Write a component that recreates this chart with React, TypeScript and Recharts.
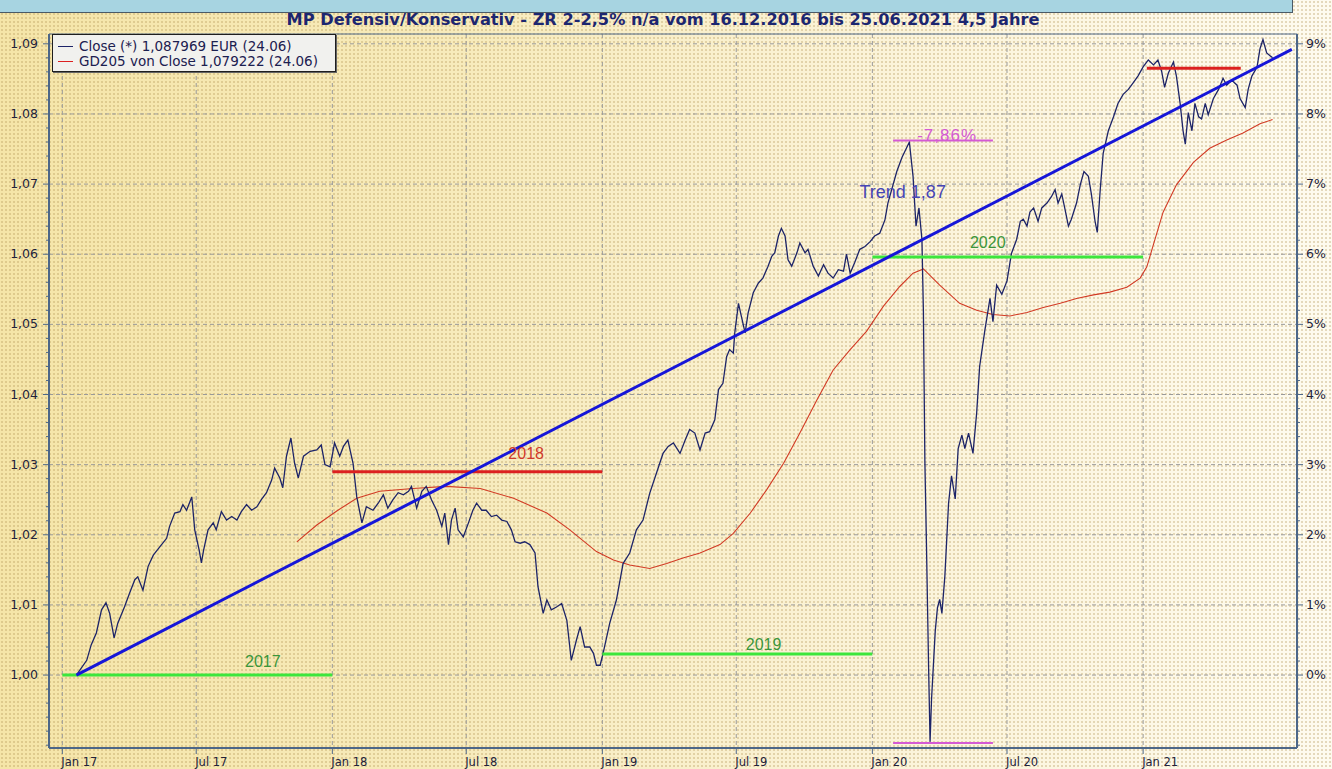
import React from 'react';
import {
  ComposedChart,
  Line,
  XAxis,
  YAxis,
  CartesianGrid,
  ReferenceLine,
  ReferenceDot,
} from 'recharts';

// x = Tage seit 01.01.2017
const closeDays = [
  19, 33, 39, 46, 53, 59, 64, 70, 75, 84, 91, 98, 102, 109, 116, 123, 132, 141, 145, 152,
  159, 163, 168, 175, 179, 185, 188, 191, 197, 204, 208, 215, 222, 229, 236, 242, 249, 256, 263, 269,
  276, 283, 287, 294, 298, 303, 309, 314, 319, 326, 335, 344, 350, 355, 362, 368, 375, 380, 386, 393,
  398, 405, 411, 420, 427, 434, 440, 447, 454, 461, 468, 472, 479, 486, 492, 499, 506, 513, 517, 522,
  526, 531, 535, 542, 549, 555, 560, 567, 573, 580, 587, 594, 601, 607, 612, 619, 625, 632, 639, 643,
  650, 655, 661, 668, 675, 682, 688, 695, 700, 706, 713, 718, 722, 727, 731, 740, 749, 758, 767, 776,
  785, 794, 806, 812, 819, 826, 835, 842, 848, 855, 862, 869, 875, 882, 887, 893, 898, 902, 907, 909,
  914, 918, 923, 927, 934, 941, 947, 954, 959, 963, 968, 972, 977, 981, 986, 993, 997, 1004, 1008, 1015,
  1022, 1029, 1035, 1042, 1049, 1056, 1060, 1065, 1071, 1078, 1085, 1092, 1098, 1105, 1112, 1116, 1128, 1135, 1145, 1150,
  1154, 1158, 1162, 1164, 1166, 1168, 1171, 1173, 1175, 1180, 1183, 1186, 1189, 1193, 1198, 1202, 1207, 1211, 1216, 1220,
  1225, 1231, 1236, 1240, 1247, 1254, 1258, 1263, 1270, 1277, 1283, 1290, 1295, 1299, 1304, 1308, 1313, 1319, 1324, 1331,
  1337, 1342, 1346, 1351, 1355, 1360, 1364, 1371, 1376, 1381, 1387, 1391, 1396, 1399, 1403, 1407, 1414, 1421, 1427, 1434,
  1441, 1448, 1454, 1461, 1468, 1475, 1481, 1486, 1490, 1495, 1502, 1506, 1511, 1515, 1518, 1522, 1527, 1531, 1536, 1540,
  1545, 1549, 1556, 1563, 1569, 1574, 1581, 1588, 1592, 1599, 1603, 1608, 1615, 1619, 1623, 1628, 1636,
];
const closeValues = [
  1.0, 1.0021, 1.0043, 1.006, 1.0093, 1.0103, 1.0088, 1.0053, 1.0074, 1.0097, 1.0117, 1.0136, 1.014, 1.0121, 1.0155, 1.0171, 1.0183, 1.0195, 1.0212, 1.0231,
  1.0233, 1.0243, 1.0235, 1.0254, 1.0207, 1.0178, 1.016, 1.0178, 1.0207, 1.0217, 1.0207, 1.0233, 1.0221, 1.0226, 1.0221, 1.0233, 1.0243, 1.0235, 1.024, 1.025,
  1.026, 1.0278, 1.0295, 1.0281, 1.0267, 1.0312, 1.0338, 1.0302, 1.0281, 1.0312, 1.0319, 1.0321, 1.0328, 1.03, 1.0297, 1.0331, 1.0312, 1.0326, 1.0335, 1.0302,
  1.0254, 1.0217, 1.024, 1.0235, 1.0245, 1.0257, 1.0238, 1.025, 1.026, 1.0257, 1.0262, 1.0269, 1.0238, 1.0262, 1.0269, 1.025, 1.0235, 1.0212, 1.0231, 1.0186,
  1.0221, 1.0238, 1.0207, 1.0197, 1.0217, 1.0235, 1.0245, 1.0235, 1.0235, 1.0226, 1.0228, 1.0221, 1.0219, 1.0207, 1.019, 1.0188, 1.019, 1.0186, 1.0174, 1.0126,
  1.0088, 1.0107, 1.0093, 1.0097, 1.0102, 1.0078, 1.0021, 1.005, 1.0069, 1.004, 1.004, 1.0031, 1.0014, 1.0014, 1.0031, 1.0074, 1.0107, 1.0159, 1.0174, 1.0207,
  1.0221, 1.0259, 1.0297, 1.0316, 1.0326, 1.0331, 1.0316, 1.0335, 1.035, 1.0345, 1.0321, 1.0345, 1.0347, 1.0364, 1.0407, 1.0416, 1.0454, 1.0464, 1.0459, 1.0488,
  1.053, 1.0511, 1.0488, 1.0516, 1.0545, 1.0559, 1.0566, 1.0583, 1.0597, 1.0602, 1.0626, 1.0637, 1.0626, 1.0592, 1.0583, 1.0602, 1.0616, 1.0602, 1.0607, 1.0583,
  1.0569, 1.0585, 1.0573, 1.0566, 1.0578, 1.0576, 1.06, 1.0573, 1.0588, 1.0607, 1.0611, 1.0618, 1.0626, 1.063, 1.0649, 1.0673, 1.0718, 1.0738, 1.076, 1.0711,
  1.064, 1.0666, 1.0621, 1.0517, 1.0303, 1.0193, 1.0011, 0.9905, 0.9966, 1.0063, 1.0096, 1.0108, 1.0088, 1.0141, 1.0245, 1.0284, 1.0251, 1.0323, 1.0342, 1.0323,
  1.0345, 1.0316, 1.0374, 1.044, 1.0491, 1.0537, 1.0504, 1.0556, 1.0543, 1.0562, 1.0601, 1.0621, 1.0647, 1.065, 1.064, 1.066, 1.0666, 1.0647, 1.0666, 1.0673,
  1.0682, 1.0692, 1.0673, 1.0686, 1.0666, 1.064, 1.065, 1.0673, 1.0699, 1.0718, 1.0711, 1.0686, 1.0647, 1.0631, 1.0692, 1.0744, 1.0776, 1.0796, 1.0815, 1.0828,
  1.0835, 1.0845, 1.0854, 1.0867, 1.0877, 1.087, 1.0877, 1.0861, 1.0838, 1.0858, 1.0874, 1.0854, 1.0815, 1.0776, 1.0757, 1.0802, 1.0776, 1.0815, 1.0796, 1.0793,
  1.0815, 1.0799, 1.0822, 1.0835, 1.0851, 1.0841, 1.0848, 1.0841, 1.0822, 1.0809, 1.0835, 1.0854, 1.0867, 1.0893, 1.0906, 1.0887, 1.088,
];

const gdDays = [
  317, 344, 371, 398, 429, 474, 519, 565, 610, 655, 686, 722, 745, 767, 794, 817, 839, 862, 889, 907,
  930, 952, 975, 997, 1020, 1042, 1065, 1087, 1110, 1132, 1150, 1164, 1186, 1213, 1236, 1258, 1281, 1304, 1326, 1349,
  1371, 1394, 1416, 1439, 1457, 1466, 1475, 1488, 1506, 1529, 1551, 1574, 1596, 1619, 1636,
];
const gdValues = [
  1.019, 1.0214, 1.0234, 1.0252, 1.0262, 1.0266, 1.0269, 1.0266, 1.0252, 1.0231, 1.0207, 1.0176, 1.0164, 1.0157, 1.0152, 1.0159, 1.0167, 1.0174, 1.0186, 1.0202,
  1.0231, 1.0264, 1.0302, 1.0345, 1.0392, 1.0435, 1.0464, 1.049, 1.0526, 1.0554, 1.0573, 1.0579, 1.0556, 1.053, 1.052, 1.0514, 1.0512, 1.0517, 1.0524, 1.053,
  1.0537, 1.0542, 1.0546, 1.0553, 1.0566, 1.0582, 1.0614, 1.066, 1.0699, 1.0731, 1.0751, 1.0763, 1.0773, 1.0786, 1.0792,
];

const trendDays = [19, 1662];
const trendValues = [1.0, 1.0892];

// Jahres-Startlinien
const yearNames = ['2017', '2018', '2019', '2020'];
const yearFrom = [0, 365, 730, 1095];
const yearTo = [365, 730, 1095, 1461];
const yearLevel = [1.0, 1.029, 1.003, 1.0596];
const yearLabelDay = [271, 627, 948, 1251];
const yearLabelValue = [1.0019, 1.0316, 1.0044, 1.0617];
const currentYear = { from: 1466, to: 1593, level: 1.0865 };

// Drawdown
const ddFrom = 1123;
const ddTo = 1258;
const ddHigh = 1.0762;
const ddLow = 0.9903;
const ddText = '-7,86%';
const ddLabel = { day: 1196, value: 1.077 };
const trendText = 'Trend 1,87';
const trendLabel = { day: 1136, value: 1.0689 };

const xTicks = [0, 181, 365, 546, 730, 911, 1095, 1277, 1461];
const xTickLabels = ['Jan 17', 'Jul 17', 'Jan 18', 'Jul 18', 'Jan 19', 'Jul 19', 'Jan 20', 'Jul 20', 'Jan 21'];
const yMajorTicks = [1.0, 1.01, 1.02, 1.03, 1.04, 1.05, 1.06, 1.07, 1.08, 1.09];

const title = 'MP Defensiv/Konservativ - ZR 2-2,5% n/a vom 16.12.2016 bis 25.06.2021 4,5 Jahre';
const legendClose = 'Close (*) 1,087969 EUR (24.06)';
const legendGd = 'GD205 von Close 1,079222 (24.06)';

const X_DOMAIN: [number, number] = [-18, 1669];
const Y_DOMAIN: [number, number] = [0.9896, 1.0914];

const AXIS = '#4d6788';
const NAVY = '#1d2468';
const GD_RED = '#d23a24';
const TREND_BLUE = '#1616d8';
const GREEN = '#3ce63c';
const RED = '#dc2020';
const MAGENTA = '#d45ad4';

// Nebenticks alle 0,002
const yAllTicks: number[] = [];
for (let i = 0; i <= 50; i++) yAllTicks.push(Math.round((0.99 + i * 0.002) * 1000) / 1000);

const hasLabel = (v: number) => yMajorTicks.some((m) => Math.abs(m - v) < 1e-6);
const fmtY = (v: number) => v.toFixed(2).replace('.', ',');
const fmtPct = (v: number) => `${Math.round((v - 1) * 100)}%`;

type Row = { d: number; close?: number; gd?: number; trend?: number };

function buildRows(): Row[] {
  const map = new Map<number, Row>();
  const put = (d: number, key: 'close' | 'gd' | 'trend', v: number) => {
    const r = map.get(d) ?? { d };
    r[key] = v;
    map.set(d, r);
  };
  closeDays.forEach((d, i) => put(d, 'close', closeValues[i]));
  gdDays.forEach((d, i) => put(d, 'gd', gdValues[i]));
  trendDays.forEach((d, i) => put(d, 'trend', trendValues[i]));
  return [...map.values()].sort((a, b) => a.d - b.d);
}

const rows = buildRows();

function LeftTick(props: any) {
  const { x, y, payload } = props;
  const v = payload.value as number;
  const major = hasLabel(v);
  return (
    <g>
      <line x1={x} x2={x - (major ? 6 : 3)} y1={y} y2={y} stroke={AXIS} />
      {major && (
        <text x={x - 11} y={y + 4} textAnchor="end" fontSize={12.5} fontFamily="DejaVu Sans" fill="#22223a">
          {fmtY(v)}
        </text>
      )}
    </g>
  );
}

function RightTick(props: any) {
  const { x, y, payload } = props;
  const v = payload.value as number;
  const major = hasLabel(v);
  return (
    <g>
      <line x1={x} x2={x + (major ? 6 : 3)} y1={y} y2={y} stroke={AXIS} />
      {major && (
        <text x={x + 9} y={y + 4} textAnchor="start" fontSize={12.5} fontFamily="DejaVu Sans" fill="#22223a">
          {fmtPct(v)}
        </text>
      )}
    </g>
  );
}

function BottomTick(props: any) {
  const { x, y, payload } = props;
  const idx = xTicks.indexOf(payload.value);
  return (
    <g>
      <line x1={x} x2={x} y1={y} y2={y + 6} stroke={AXIS} />
      <text x={x - 1} y={y + 18} textAnchor="start" fontSize={11.5} fontFamily="DejaVu Sans" fill="#22223a">
        {xTickLabels[idx]}
      </text>
    </g>
  );
}

const labelFont = 'Liberation Sans, Arial, sans-serif';

export default function App() {
  return (
    <div
      style={{
        position: 'absolute',
        left: 0,
        top: 0,
        width: 1332,
        height: 769,
        overflow: 'hidden',
        backgroundImage:
          'radial-gradient(circle, rgba(175,145,80,0.32) 0.7px, transparent 1.1px), linear-gradient(90deg, #f5e5a8 0%, #f7ebbc 35%, #fbf3d8 65%, #fefbef 100%)',
        backgroundSize: '4px 4px, 100% 100%',
      }}
    >
      <div
        style={{
          position: 'absolute',
          left: 0,
          top: 0,
          width: 1292,
          height: 12,
          background: '#a7d4e1',
          borderBottom: '1px solid #4a5a66',
          borderRight: '1px solid #4a5a66',
        }}
      />
      <div
        style={{
          position: 'absolute',
          left: 0,
          top: 11,
          width: 1326,
          textAlign: 'center',
          fontFamily: 'DejaVu Sans, Verdana, sans-serif',
          fontWeight: 'bold',
          fontSize: 16.2,
          lineHeight: '18px',
          color: '#1c2670',
          zIndex: 2,
        }}
      >
        {title}
      </div>

      <ComposedChart
        width={1332}
        height={769}
        data={rows}
        margin={{ top: 34, right: 0, bottom: 0, left: 0 }}
        style={{ position: 'absolute', left: 0, top: 0 }}
      >
        <CartesianGrid yAxisId="l" horizontal={false} stroke="#9a9a9a" strokeDasharray="4 3" />
        <XAxis
          dataKey="d"
          type="number"
          domain={X_DOMAIN}
          ticks={xTicks}
          interval={0}
          allowDataOverflow
          height={21}
          tickSize={0}
          tickMargin={0}
          tick={<BottomTick />}
          axisLine={{ stroke: AXIS, strokeWidth: 2 }}
        />
        <YAxis
          yAxisId="l"
          orientation="left"
          width={49}
          domain={Y_DOMAIN}
          ticks={yAllTicks}
          interval={0}
          allowDataOverflow
          tickSize={0}
          tickMargin={0}
          tick={<LeftTick />}
          axisLine={{ stroke: AXIS, strokeWidth: 2 }}
        />
        <YAxis
          yAxisId="r"
          orientation="right"
          width={35}
          domain={Y_DOMAIN}
          ticks={yAllTicks}
          interval={0}
          allowDataOverflow
          tickSize={0}
          tickMargin={0}
          tick={<RightTick />}
          axisLine={{ stroke: AXIS, strokeWidth: 2 }}
        />

        {yMajorTicks.map((v) => (
          <ReferenceLine key={v} yAxisId="l" y={v} stroke="#9a9a9a" strokeDasharray="4 3" />
        ))}
        <ReferenceLine yAxisId="l" y={Y_DOMAIN[1]} stroke={AXIS} strokeWidth={1} />

        <Line
          yAxisId="l"
          dataKey="gd"
          type="linear"
          stroke={GD_RED}
          strokeWidth={1.1}
          dot={false}
          connectNulls
          isAnimationActive={false}
        />
        <Line
          yAxisId="l"
          dataKey="close"
          type="linear"
          stroke={NAVY}
          strokeWidth={1.3}
          dot={false}
          connectNulls
          isAnimationActive={false}
        />

        {yearNames.map((name, i) => (
          <ReferenceLine
            key={name}
            yAxisId="l"
            segment={[
              { x: yearFrom[i], y: yearLevel[i] },
              { x: yearTo[i], y: yearLevel[i] },
            ]}
            stroke={name === '2018' ? RED : GREEN}
            strokeWidth={3}
          />
        ))}
        <ReferenceLine
          yAxisId="l"
          segment={[
            { x: currentYear.from, y: currentYear.level },
            { x: currentYear.to, y: currentYear.level },
          ]}
          stroke={RED}
          strokeWidth={3}
        />
        <ReferenceLine
          yAxisId="l"
          segment={[
            { x: ddFrom, y: ddHigh },
            { x: ddTo, y: ddHigh },
          ]}
          stroke={MAGENTA}
          strokeWidth={2}
        />
        <ReferenceLine
          yAxisId="l"
          segment={[
            { x: ddFrom, y: ddLow },
            { x: ddTo, y: ddLow },
          ]}
          stroke={MAGENTA}
          strokeWidth={2}
        />

        <Line
          yAxisId="l"
          dataKey="trend"
          type="linear"
          stroke={TREND_BLUE}
          strokeWidth={3}
          dot={false}
          connectNulls
          isAnimationActive={false}
        />

        {yearNames.map((name, i) => (
          <ReferenceDot
            key={'lbl' + name}
            yAxisId="l"
            x={yearLabelDay[i]}
            y={yearLabelValue[i]}
            r={0}
            fill="none"
            stroke="none"
            label={{
              value: name,
              position: 'center',
              fill: name === '2018' ? '#d03a2c' : '#3a963a',
              fontSize: 16,
              fontFamily: labelFont,
            }}
          />
        ))}
        <ReferenceDot
          yAxisId="l"
          x={ddLabel.day}
          y={ddLabel.value}
          r={0}
          fill="none"
          stroke="none"
          label={{ value: ddText, position: 'center', fill: MAGENTA, fontSize: 17, fontFamily: labelFont, letterSpacing: 1 }}
        />
        <ReferenceDot
          yAxisId="l"
          x={trendLabel.day}
          y={trendLabel.value}
          r={0}
          fill="none"
          stroke="none"
          label={{ value: trendText, position: 'center', fill: '#4646b6', fontSize: 18, fontFamily: labelFont }}
        />
      </ComposedChart>

      <div
        style={{
          position: 'absolute',
          left: 52,
          top: 34,
          width: 284,
          height: 38,
          background: '#f1f1ee',
          border: '1px solid #1e1e1e',
          boxShadow: '1px 1px 0 #666',
          fontFamily: 'DejaVu Sans, Verdana, sans-serif',
          fontSize: 13.5,
          lineHeight: '15px',
          color: '#1c2050',
          paddingTop: 4,
          boxSizing: 'border-box',
          zIndex: 3,
        }}
      >
        {[
          { color: NAVY, text: legendClose },
          { color: RED, text: legendGd },
        ].map((item) => (
          <div key={item.text} style={{ display: 'flex', alignItems: 'center', whiteSpace: 'nowrap' }}>
            <span style={{ display: 'inline-block', width: 15, height: 1.5, background: item.color, margin: '0 6px 0 5px' }} />
            {item.text}
          </div>
        ))}
      </div>
    </div>
  );
}
